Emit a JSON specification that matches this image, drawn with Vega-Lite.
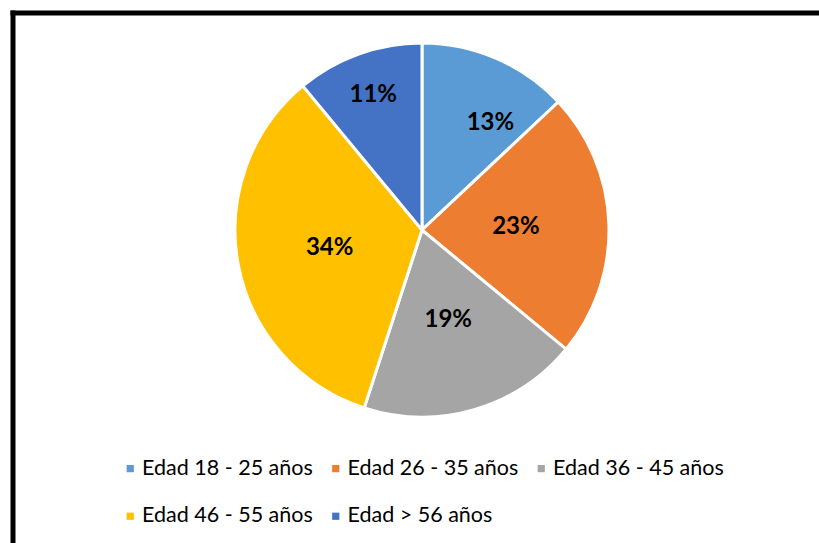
{
  "$schema": "https://vega.github.io/schema/vega-lite/v6.json",
  "autosize": "none",
  "padding": {"left": 12.5, "top": 12.5, "right": 0, "bottom": 0},
  "width": 806.5,
  "height": 530.5,
  "background": "white",
  "config": {
    "font": "Lato",
    "view": {"stroke": null}
  },
  "data": {
    "values": [
      {"grupo": "Edad 18 - 25 años", "valor": 13, "orden": 1, "etiqueta": "13%"},
      {"grupo": "Edad 26 - 35 años", "valor": 23, "orden": 2, "etiqueta": "23%"},
      {"grupo": "Edad 36 - 45 años", "valor": 19, "orden": 3, "etiqueta": "19%"},
      {"grupo": "Edad 46 - 55 años", "valor": 34, "orden": 4, "etiqueta": "34%"},
      {"grupo": "Edad > 56 años", "valor": 11, "orden": 5, "etiqueta": "11%"}
    ]
  },
  "layer": [
    {
      "mark": {"type": "rule", "opacity": 0},
      "encoding": {
        "x": {"datum": 0, "type": "quantitative", "scale": {"domain": [0, 1]},
          "axis": {"orient": "top", "domainColor": "black", "domainWidth": 5, "domainCap": "square", "ticks": false, "labels": false, "grid": false, "title": null}},
        "y": {"datum": 0, "type": "quantitative", "scale": {"domain": [0, 1]},
          "axis": {"orient": "left", "domainColor": "black", "domainWidth": 5, "domainCap": "square", "ticks": false, "labels": false, "grid": false, "title": null}}
      }
    },
    {
      "encoding": {
        "theta": {"field": "valor", "type": "quantitative", "stack": true},
        "order": {"field": "orden", "type": "quantitative"},
        "color": {
          "field": "grupo",
          "type": "nominal",
          "sort": ["Edad 18 - 25 años", "Edad 26 - 35 años", "Edad 36 - 45 años", "Edad 46 - 55 años", "Edad > 56 años"],
          "scale": {
            "domain": ["Edad 18 - 25 años", "Edad 26 - 35 años", "Edad 36 - 45 años", "Edad 46 - 55 años", "Edad > 56 años"],
            "range": ["#5B9BD5", "#ED7D31", "#A5A5A5", "#FFC000", "#4472C4"]
          },
          "legend": {
            "title": null,
            "orient": "none",
            "legendX": 107,
            "legendY": 445,
            "padding": 0,
            "direction": "horizontal",
            "columns": 3,
            "symbolType": "square",
            "symbolSize": 52,
            "symbolStrokeWidth": 0,
            "labelFontSize": 21.5,
            "labelFont": "Lato",
            "labelColor": "#000000",
            "labelOffset": 1,
            "columnPadding": 11.5,
            "rowPadding": 25,
            "labelLimit": 300
          }
        }
      },
      "layer": [
        {
          "mark": {"type": "arc", "outerRadius": 187, "stroke": "white", "strokeWidth": 3, "x": 409.5, "y": 217.5}
        },
        {
          "mark": {
            "type": "text",
            "x": 409.5,
            "y": 217.5,
            "radius": {"expr": "datum.valor < 12 ? 144 : datum.valor < 15 ? 127 : 94"},
            "dx": {"expr": "datum.valor == 13 ? 18 : 0"},
            "dy": {"expr": "datum.valor == 13 ? 10 : 0"},
            "fontSize": 24,
            "fontWeight": "bold",
            "font": "Lato",
            "color": "black"
          },
          "encoding": {
            "text": {"field": "etiqueta"},
            "color": {"value": "black"}
          }
        }
      ]
    }
  ]
}
